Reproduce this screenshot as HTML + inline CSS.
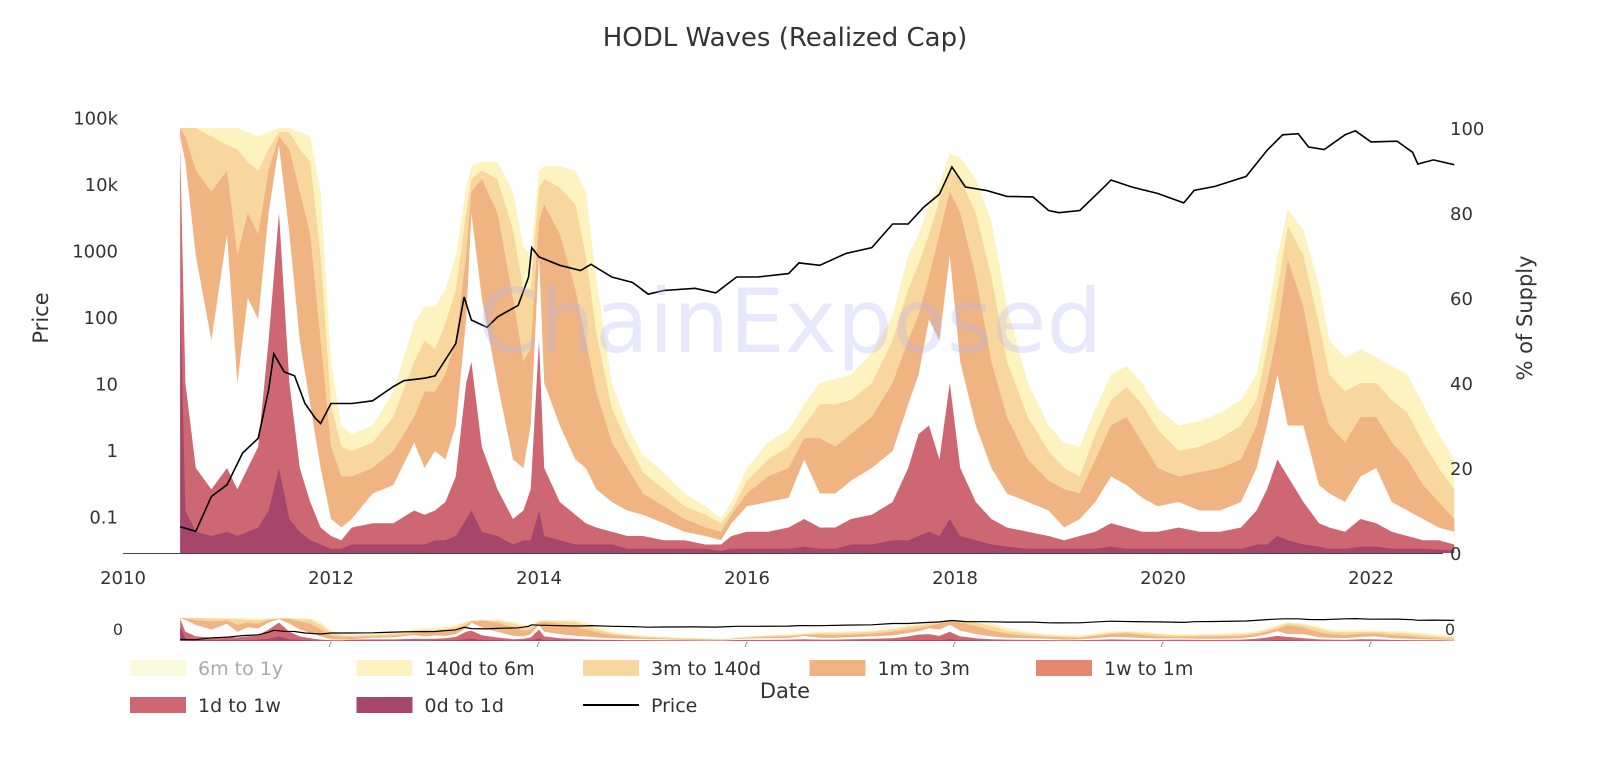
<!DOCTYPE html>
<html><head><meta charset="utf-8"><style>
body{margin:0;background:#fff;}
svg{display:block;font-family:"DejaVu Sans","Liberation Sans",sans-serif;}
</style></head><body>
<svg id="chart" width="1600" height="758">
<text x="785" y="46" font-size="26" text-anchor="middle" fill="#333">HODL Waves (Realized Cap)</text>
<g id="main"></g>
<text x="790" y="352" font-size="88" text-anchor="middle" fill="rgba(180,180,250,0.3)">ChainExposed</text>
<g id="mini"></g>
<g id="axes"></g>
<g id="legend"></g>
<text x="785" y="698" font-size="21" text-anchor="middle" fill="#333">Date</text>
<text x="0" y="0" font-size="21" text-anchor="middle" fill="#333" transform="translate(48,318) rotate(-90)">Price</text>
<text x="0" y="0" font-size="21" text-anchor="middle" fill="#333" transform="translate(1532,318) rotate(-90)">% of Supply</text>
</svg>
<script>
const years=[2010.55,2010.6,2010.7,2010.85,2011.0,2011.1,2011.2,2011.3,2011.4,2011.5,2011.6,2011.7,2011.8,2011.9,2012.0,2012.1,2012.2,2012.4,2012.6,2012.8,2012.9,2013.0,2013.1,2013.2,2013.3,2013.35,2013.45,2013.6,2013.75,2013.85,2013.92,2014.0,2014.05,2014.2,2014.35,2014.45,2014.55,2014.7,2014.85,2015.0,2015.2,2015.4,2015.6,2015.75,2015.85,2016.0,2016.2,2016.4,2016.55,2016.7,2016.85,2017.0,2017.2,2017.4,2017.55,2017.65,2017.75,2017.85,2017.95,2018.05,2018.2,2018.35,2018.5,2018.7,2018.9,2019.05,2019.2,2019.35,2019.5,2019.65,2019.8,2019.95,2020.15,2020.35,2020.55,2020.75,2020.9,2021.0,2021.1,2021.2,2021.35,2021.5,2021.6,2021.75,2021.9,2022.05,2022.2,2022.35,2022.5,2022.65,2022.8];
// cumulative % of supply at top of each band
const top140d6m=[100,100,100,100,100,100,99,98,99,100,100,99,98,85,45,30,28,30,38,54,58,58,62,70,86,91,92,92,85,72,70,90,91,91,90,85,65,40,30,23,19,14,11,8,12,20,26,29,35,40,41,42,47,56,70,75,82,87,94,93,88,78,58,40,30,26,25,34,42,44,40,34,30,31,33,36,42,55,70,81,76,63,50,46,48,46,44,42,35,28,22];
const top3m140d=[100,100,100,98,96,95,92,90,95,99,99,95,92,70,35,25,24,26,32,45,50,48,54,62,80,88,90,88,76,62,62,86,88,86,82,70,52,34,26,19,15,11,9,7,10,17,22,25,30,35,35,36,40,50,62,68,75,83,90,88,80,65,45,32,24,20,18,28,36,39,35,29,24,25,27,30,36,48,62,77,70,54,42,38,40,40,36,33,26,20,15];
const top1m3m=[100,98,90,85,90,70,80,75,90,98,95,85,75,50,25,18,18,20,24,32,38,38,42,50,70,85,88,80,60,45,48,78,82,75,62,50,38,26,20,14,11,8,6,5,9,14,18,20,27,27,25,28,32,40,50,56,65,75,85,80,65,45,32,22,17,15,14,22,30,32,26,20,18,19,20,22,30,40,52,69,58,38,30,26,32,32,26,22,16,12,8];
const top1w1m=[98,92,70,50,75,40,60,55,80,96,75,50,35,20,8,6,8,14,16,26,20,24,22,30,55,80,60,40,22,20,30,70,40,30,22,20,15,12,10,9,7,5,4,3,7,11,12,13,22,14,14,17,20,24,35,42,55,50,70,45,30,20,14,12,10,6,8,12,18,16,13,11,12,10,10,12,20,30,42,30,30,16,14,12,18,20,12,10,8,6,5];
const top1d1w=[95,40,20,15,20,15,20,25,50,80,40,20,12,6,4,3,6,7,7,10,9,10,12,18,40,45,25,15,8,10,15,50,20,12,9,7,6,5,4,4,3,3,2,2,4,5,5,6,8,6,6,8,9,12,20,28,30,22,40,20,12,8,6,5,4,3,4,5,7,6,5,5,6,5,5,6,10,15,22,18,12,7,6,5,8,7,5,4,3,3,2];
const top0d1d=[60,10,5,4,5,4,5,6,10,20,8,5,3,2,1,1,2,2,2,2,2,3,3,4,8,10,5,4,2,3,3,10,4,3,2,2,2,2,1,1,1,1,1,0.5,1,1,1,1,1.5,1,1,2,2,3,3,4,5,4,8,4,3,2,1.5,1,1,1,1,1,1.5,1,1,1,1,1,1,1,2,2,4,3,2,1.5,1,1,1.5,1.5,1,1,1,0.8,0.6];
const priceYears=[2010.55,2010.7,2010.85,2011.0,2011.15,2011.3,2011.4,2011.45,2011.55,2011.65,2011.75,2011.85,2011.9,2012.0,2012.2,2012.4,2012.6,2012.7,2012.9,2013.0,2013.2,2013.28,2013.35,2013.5,2013.6,2013.8,2013.9,2013.93,2014.0,2014.2,2014.4,2014.5,2014.7,2014.9,2015.05,2015.2,2015.5,2015.7,2015.9,2016.1,2016.4,2016.5,2016.7,2016.95,2017.2,2017.4,2017.55,2017.7,2017.85,2017.97,2018.1,2018.3,2018.5,2018.75,2018.9,2019.0,2019.2,2019.4,2019.5,2019.7,2019.95,2020.2,2020.3,2020.5,2020.8,2021.0,2021.15,2021.3,2021.4,2021.55,2021.75,2021.85,2022.0,2022.25,2022.4,2022.45,2022.6,2022.8];
const prices=[0.07,0.06,0.2,0.3,0.9,1.5,8,28,15,13,5,3,2.5,5,5,5.5,9,11,12,13,40,200,90,70,100,150,400,1100,800,600,500,620,400,330,220,250,270,230,400,400,450,650,600,900,1100,2500,2500,4500,7000,18000,9000,8000,6500,6400,4000,3700,4000,8000,11500,9000,7200,5200,8000,9200,13000,32000,55000,57000,36000,33000,55000,63000,43000,44000,30000,20000,23000,19500];
const xTicks=[2010,2012,2014,2016,2018,2020,2022];
const leftTicks=[0.1,1,10,100,1000,10000,100000];
const leftTickLabels=["0.1","1","10","100","1000","10k","100k"];
const rightTicks=[0,20,40,60,80,100];
const legendNames=["6m to 1y","140d to 6m","3m to 140d","1m to 3m","1w to 1m","1d to 1w","0d to 1d","Price"];

const NS="http://www.w3.org/2000/svg";
function mk(tag,attrs,parent){const e=document.createElementNS(NS,tag);for(const k in attrs)e.setAttribute(k,attrs[k]);parent.appendChild(e);return e;}
const xS=y=>123+(y-2010)*104;
const pS=v=>553-v*4.25;
const lS=p=>184-(Math.log10(p)-4)*66.5;
const mpS=v=>641-v*0.23;
const mlS=p=>641-(Math.log10(p)+1.6)*3.5;

const bands=[[top140d6m,"#fcf3c0","band-140d-to-6m"],[top3m140d,"#f7d79d","band-3m-to-140d"],[top1m3m,"#f0b382","band-1m-to-3m"],[top1w1m,"#ffffff","band-1w-to-1m"],[top1d1w,"#cd6872","band-1d-to-1w"],[top0d1d,"#a6466a","band-0d-to-1d"]];
function areaPath(arr,ys,base){let d="M"+xS(years[0]).toFixed(1)+","+base;years.forEach((y,i)=>{d+="L"+xS(y).toFixed(1)+","+ys(arr[i]).toFixed(1);});d+="L"+xS(years[years.length-1]).toFixed(1)+","+base+"Z";return d;}
const main=document.getElementById('main'),mini=document.getElementById('mini');
bands.forEach(b=>{
 const p=mk('path',{d:areaPath(b[0],pS,553),fill:b[1]},main);
 
 
 const q=mk('path',{d:areaPath(b[0],mpS,641),fill:b[1]},mini);
 
 
});
let pd="",md="";
priceYears.forEach((y,i)=>{pd+=(i?"L":"M")+xS(y).toFixed(1)+","+lS(prices[i]).toFixed(1);md+=(i?"L":"M")+xS(y).toFixed(1)+","+mlS(prices[i]).toFixed(1);});
const pl=mk('path',{d:pd,fill:"none",stroke:"#000","stroke-width":1.6},main);


const mpl=mk('path',{d:md,fill:"none",stroke:"#000","stroke-width":1.2},mini);


const ml=mk('text',{x:118,y:635,"font-size":16,"text-anchor":"middle",fill:"#333"},mini);ml.textContent="0";


const mr=mk('text',{x:1450,y:635,"font-size":16,"text-anchor":"middle",fill:"#333"},mini);mr.textContent="0";



const axes=document.getElementById('axes');
const al=mk('line',{x1:123,x2:1443,y1:553.5,y2:553.5,stroke:"#444","stroke-width":1},axes);


xTicks.forEach(t=>{const e=mk('text',{x:xS(t),y:584,"font-size":18,"text-anchor":"middle",fill:"#333"},axes);e.textContent=t;
 
 
 if(t>2010){const m=mk('line',{x1:xS(t),x2:xS(t)-2,y1:642,y2:647,stroke:"#888"},axes);
 
 }
});
leftTicks.forEach((t,i)=>{const e=mk('text',{x:118,y:lS(t)+7,"font-size":18,"text-anchor":"end",fill:"#333"},axes);e.textContent=leftTickLabels[i];
 
 });
rightTicks.forEach(t=>{const e=mk('text',{x:1450,y:pS(t)+7,"font-size":18,"text-anchor":"start",fill:"#333"},axes);e.textContent=t;
 
 });

const leg=document.getElementById('legend');
const legColors=["#fafadc","#fcf3c0","#f7d79d","#f0b382","#e6876f","#cd6872","#a6466a",null];
legendNames.forEach((n,i)=>{
 const col=i%5,row=Math.floor(i/5);
 const x=130+col*226.5,y=668+row*37;
 const g=mk('g',{},leg);
 
 
 if(legColors[i]) mk('rect',{x:x,y:y-8,width:56,height:16,fill:legColors[i]},g);
 else mk('line',{x1:x,x2:x+56,y1:y,y2:y,stroke:"#000","stroke-width":2},g);
 const t=mk('text',{x:x+68,y:y+7,"font-size":19,fill:i===0?"#aaa":"#333"},g);t.textContent=n;
});
</script>
</body></html>
